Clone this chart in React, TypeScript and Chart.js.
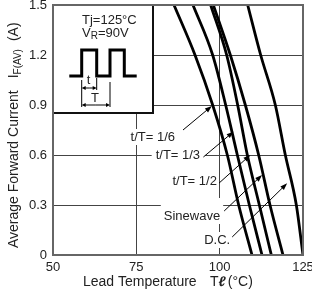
import React, { useEffect, useRef } from 'react';
import { Chart, registerables } from 'chart.js';
Chart.register(...registerables);

// Current levels (A) at which temperatures were read
const yLevels = [1.5, 1.2, 0.9, 0.6, 0.3, 0];
// Lead temperature (°C) for each curve at those current levels
const tRatio16 = [86.3, 92.6, 97.9, 102.3, 105.7, 109.7];
const tRatio13 = [92.0, 97.9, 101.8, 105.3, 108.9, 112.7];
const tRatio12 = [97.3, 102.1, 105.4, 108.3, 111.9, 115.5];
const sineWave = [98.1, 103.2, 107.7, 111.7, 115.1, 119.0];
const dcCurve = [108.4, 112.3, 116.7, 119.7, 123.0, 125.0];

const xTicks = [50, 75, 100, 125];
const yTicks = [0, 0.3, 0.6, 0.9, 1.2, 1.5];
const yTickLabels = ['0', '0.3', '0.6', '0.9', '1.2', '1.5'];

const curveLabels = ['t/T= 1/6', 't/T= 1/3', 't/T= 1/2', 'Sinewave', 'D.C.'];

// annotation anchors in data units: text right end, arrow start, arrow tip
const labelAnchors = [
  { tx: 86.6, ty: 0.708, ax: 89.0, ay: 0.75, bx: 97.65, by: 0.894, pad: [2, 2, 0, 0] },
  { tx: 94.13, ty: 0.6, ax: 95.12, ay: 0.588, bx: 104.16, by: 0.74, pad: [4, 5, 0, 0] },
  { tx: 99.16, ty: 0.44, ax: 99.85, ay: 0.432, bx: 109.19, by: 0.6, pad: [3, 0, 0, 0] },
  { tx: 100.15, ty: 0.234, ax: 101.35, ay: 0.264, bx: 112.71, by: 0.48, pad: [3, 3, 10, 0] },
  { tx: 103.16, ty: 0.09, ax: 103.76, ay: 0.108, bx: 120.24, by: 0.43, pad: [2, 2, 0, 0] },
];
const insetBox = { x0: 50, x1: 80, y0: 0.852, y1: 1.5 };

const FONT = "'Liberation Sans', Arial, Helvetica, sans-serif";
const TXT = '#222';

function arrow(ctx: CanvasRenderingContext2D, x1: number, y1: number, x2: number, y2: number, head = 7, hw = 2.5) {
  const ang = Math.atan2(y2 - y1, x2 - x1);
  ctx.beginPath();
  ctx.moveTo(x1, y1);
  ctx.lineTo(x2 - Math.cos(ang) * head * 0.8, y2 - Math.sin(ang) * head * 0.8);
  ctx.stroke();
  ctx.beginPath();
  ctx.moveTo(x2, y2);
  ctx.lineTo(x2 - Math.cos(ang) * head - Math.sin(ang) * hw, y2 - Math.sin(ang) * head + Math.cos(ang) * hw);
  ctx.lineTo(x2 - Math.cos(ang) * head + Math.sin(ang) * hw, y2 - Math.sin(ang) * head - Math.cos(ang) * hw);
  ctx.closePath();
  ctx.fill();
}

export default function App() {
  const ref = useRef<HTMLCanvasElement>(null);
  useEffect(() => {
    if (!ref.current) return;
    const series = [tRatio16, tRatio13, tRatio12, sineWave, dcCurve];
    const overlay = {
      id: 'overlay',
      beforeDatasetsDraw(chart: any) {
        const ctx = chart.ctx as CanvasRenderingContext2D;
        const xs = chart.scales.x, ys = chart.scales.y;
        const px = (v: number) => xs.getPixelForValue(v);
        const py = (v: number) => ys.getPixelForValue(v);
        ctx.save();
        ctx.font = `13px ${FONT}`;
        // label masks
        labelAnchors.forEach((a, i) => {
          const w = ctx.measureText(curveLabels[i]).width;
          const r = px(a.tx), cy = py(a.ty);
          ctx.fillStyle = '#fff';
          ctx.fillRect(r - w - a.pad[0], cy - 8 - a.pad[2], w + a.pad[0] + a.pad[1], 16 + a.pad[2] + a.pad[3]);
        });
        // inset box
        const bx = px(insetBox.x0), by = py(insetBox.y1);
        const bw = px(insetBox.x1) - bx, bh = py(insetBox.y0) - by;
        ctx.fillStyle = '#fff';
        ctx.fillRect(bx, by, bw, bh);
        ctx.strokeStyle = '#111';
        ctx.lineWidth = 2;
        ctx.strokeRect(bx, by, bw, bh);
        ctx.fillStyle = TXT;
        ctx.textBaseline = 'middle';
        ctx.textAlign = 'left';
        ctx.font = `13px ${FONT}`;
        ctx.fillText('Tj=125°C', bx + 29, by + 15);
        let cx = bx + 29;
        ctx.fillText('V', cx, by + 28);
        cx += ctx.measureText('V').width;
        ctx.font = `10px ${FONT}`;
        ctx.fillText('R', cx, by + 31);
        cx += ctx.measureText('R').width;
        ctx.font = `13px ${FONT}`;
        ctx.fillText('=90V', cx, by + 28);
        // pulse
        const pts = [[16.3, 71], [28.7, 71], [28.7, 45], [43.7, 45], [43.7, 71], [57, 71], [57, 45], [71.3, 45], [71.3, 71], [83.7, 71]];
        ctx.strokeStyle = '#000';
        ctx.lineWidth = 3;
        ctx.lineJoin = 'miter';
        ctx.beginPath();
        pts.forEach((p, i) => (i ? ctx.lineTo(bx + p[0], by + p[1]) : ctx.moveTo(bx + p[0], by + p[1])));
        ctx.stroke();
        // dimension lines
        ctx.lineWidth = 1;
        ctx.fillStyle = '#000';
        const vl = (x: number, y1: number, y2: number) => { ctx.beginPath(); ctx.moveTo(bx + x, by + y1); ctx.lineTo(bx + x, by + y2); ctx.stroke(); };
        vl(28.7, 75, 102);
        vl(43.7, 73, 85);
        vl(57, 77, 102);
        const dim = (x1: number, x2: number, y: number) => {
          const m = (x1 + x2) / 2;
          arrow(ctx, bx + m, by + y, bx + x1, by + y, 4, 2);
          arrow(ctx, bx + m, by + y, bx + x2, by + y, 4, 2);
        };
        dim(28.7, 43.7, 83);
        dim(28.7, 57, 100);
        ctx.fillStyle = TXT;
        ctx.textAlign = 'center';
        ctx.font = `13px ${FONT}`;
        ctx.fillText('t', bx + 35.5, by + 75);
        ctx.fillText('T', bx + 42, by + 93);
        ctx.restore();
      },
      afterDatasetsDraw(chart: any) {
        const ctx = chart.ctx as CanvasRenderingContext2D;
        const xs = chart.scales.x, ys = chart.scales.y;
        const px = (v: number) => xs.getPixelForValue(v);
        const py = (v: number) => ys.getPixelForValue(v);
        const ca = chart.chartArea;
        ctx.save();
        // frame
        ctx.strokeStyle = '#666';
        ctx.lineWidth = 2;
        ctx.strokeRect(ca.left, ca.top, ca.right - ca.left, ca.bottom - ca.top);
        // labels + arrows
        ctx.font = `13px ${FONT}`;
        ctx.textAlign = 'right';
        ctx.textBaseline = 'middle';
        labelAnchors.forEach((a, i) => {
          ctx.fillStyle = TXT;
          ctx.fillText(curveLabels[i], px(a.tx), py(a.ty));
          ctx.strokeStyle = '#000';
          ctx.fillStyle = '#000';
          ctx.lineWidth = 1;
          arrow(ctx, px(a.ax), py(a.ay), px(a.bx), py(a.by));
        });
        // x title
        ctx.fillStyle = TXT;
        ctx.textAlign = 'left';
        ctx.textBaseline = 'alphabetic';
        ctx.font = `14px ${FONT}`;
        let x = 83;
        const yb = 286;
        ctx.fillText('Lead Temperature', x, yb);
        x = 210;
        ctx.fillText('T', x, yb);
        x += ctx.measureText('T').width;
        ctx.font = `italic bold 14px ${FONT}`;
        ctx.fillText('ℓ', x, yb);
        x += ctx.measureText('ℓ').width + 2;
        ctx.font = `14px ${FONT}`;
        ctx.fillText('(°C)', x, yb);
        // y title
        ctx.translate(18, 248);
        ctx.rotate(-Math.PI / 2);
        let t = 0;
        ctx.font = `14px ${FONT}`;
        ctx.fillText('Average Forward Current', t, 0);
        t += ctx.measureText('Average Forward Current').width + 12;
        ctx.fillText('I', t, 0);
        t += ctx.measureText('I').width;
        ctx.font = `10px ${FONT}`;
        ctx.fillText('F(AV)', t, 3);
        t += ctx.measureText('F(AV)').width + 8;
        ctx.font = `14px ${FONT}`;
        ctx.fillText('(A)', t, 0);
        ctx.restore();
      },
    };
    const gridColor = (c: any) => {
      const v = c.tick ? c.tick.value : null;
      if (v === 50 || v === 125 || v === 0 || v === 1.5) return 'rgba(0,0,0,0)';
      return '#444';
    };
    const chart = new Chart(ref.current, {
      type: 'line',
      data: {
        datasets: series.map((s) => ({
          data: s.map((x, i) => ({ x, y: yLevels[i] })),
          borderColor: '#000',
          borderWidth: 2.8,
          pointRadius: 0,
          cubicInterpolationMode: 'monotone' as const,
          clip: 0,
          fill: false,
        })),
      },
      options: {
        animation: false,
        responsive: false,
        devicePixelRatio: 1,
        layout: { padding: { top: 5, right: 9, left: 0, bottom: 0 } },
        plugins: { legend: { display: false }, tooltip: { enabled: false } },
        scales: {
          x: {
            type: 'linear',
            min: 50,
            max: 125,
            afterBuildTicks: (s: any) => { s.ticks = xTicks.map((v) => ({ value: v })); },
            afterFit: (s: any) => { s.height = 40; s.paddingLeft = 0; s.paddingRight = 0; },
            grid: { drawTicks: false, color: gridColor, lineWidth: 1 },
            border: { display: false },
            ticks: { padding: 5, color: TXT, font: { family: FONT, size: 13 }, maxRotation: 0, autoSkip: false },
          },
          y: {
            type: 'linear',
            min: 0,
            max: 1.5,
            afterBuildTicks: (s: any) => { s.ticks = yTicks.map((v) => ({ value: v })); },
            afterFit: (s: any) => { s.width = 53; s.paddingTop = 0; s.paddingBottom = 0; },
            grid: { drawTicks: false, color: gridColor, lineWidth: 1 },
            border: { display: false },
            ticks: {
              padding: 6,
              color: TXT,
              font: { family: FONT, size: 13 },
              autoSkip: false,
              callback: (v: any) => {
                const i = yTicks.findIndex((t) => Math.abs(t - Number(v)) < 1e-6);
                return i >= 0 ? yTickLabels[i] : '';
              },
            },
          },
        },
      },
      plugins: [overlay],
    } as any);
    return () => chart.destroy();
  }, []);
  return (
    <div style={{ position: 'absolute', left: 0, top: 0, width: 312, height: 295 }}>
      <canvas ref={ref} width={312} height={295} style={{ display: 'block' }} />
    </div>
  );
}
